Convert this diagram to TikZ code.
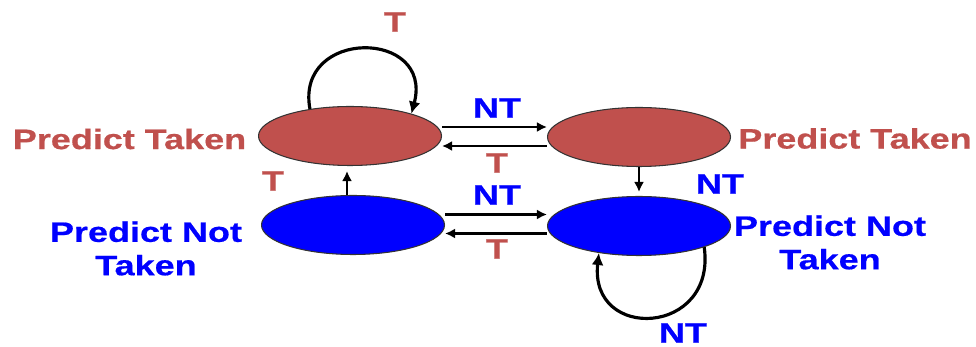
\documentclass[tikz,border=0pt]{standalone}
\usepackage{fontspec}
\usepackage{tikz}
\usetikzlibrary{arrows.meta,shapes.geometric}
\usepackage{xcolor}
\newfontfamily\lblfont{Liberation Sans}[FakeStretch=1.28,FakeBold=0.6]
\definecolor{tkred}{HTML}{C0504D}
\definecolor{ntblue}{HTML}{0000FF}
\tikzset{
	state/.style={ellipse,draw=black!80,line width=0.6pt,minimum width=3.66cm,minimum height=1.18cm,inner sep=0},
	lbl/.style={font=\lblfont\bfseries\fontsize{16}{19}\selectfont,inner sep=0,align=center},
	arr/.style={-{Latex[length=2mm,width=2mm]},line width=1.5pt},
	loop/.style={-{Latex[length=2.4mm,width=2.4mm]},line width=1.8pt}
}
\begin{document}
\begin{tikzpicture}
				\useasboundingbox (0,0) rectangle (19.52,-6.94);
				\node(PT1) at (7.0,-2.72)[state,fill=tkred]{};
				\node(PT2) at (12.78,-2.74)[state,fill=tkred]{};
				\node(PN1) at (7.06,-4.5)[state,fill=ntblue]{};
				\node(PN2) at (12.78,-4.52)[state,fill=ntblue]{};
				
				\node(L1) at (2.59,-2.78)[lbl,text=tkred]{Predict Taken};
				\node(L2) at (17.1,-2.77)[lbl,text=tkred]{Predict Taken};
				\node(L3) at (2.92,-4.97)[lbl,text=ntblue]{Predict Not\\Taken};
				\node(L4) at (16.6,-4.85)[lbl,text=ntblue]{Predict Not\\Taken};
				
				\node(t1) at (7.9,-0.44)[lbl,text=tkred]{T};
				\node(t2) at (9.94,-3.26)[lbl,text=tkred]{T};
				\node(t3) at (5.46,-3.62)[lbl,text=tkred]{T};
				\node(t4) at (9.94,-4.98)[lbl,text=tkred]{T};
				\node(nt1) at (9.94,-2.16)[lbl,text=ntblue]{NT};
				\node(nt2) at (9.94,-3.9)[lbl,text=ntblue]{NT};
				\node(nt3) at (14.4,-3.68)[lbl,text=ntblue]{NT};
				\node(nt4) at (13.66,-6.66)[lbl,text=ntblue]{NT};
				
				\draw[arr] ([yshift=0.18cm]PT1.east) to ([yshift=0.18cm]PT1.east -| PT2.west);
				\draw[arr] ([yshift=-0.18cm]PT2.west) to ([yshift=-0.18cm]PT2.west -| PT1.east);
				\draw[arr] ([yshift=0.21cm]PN1.east) to ([yshift=0.21cm]PN1.east -| PN2.west);
				\draw[arr] ([yshift=-0.15cm]PN2.west) to ([yshift=-0.15cm]PN2.west -| PN1.east);
				\draw[arr,shorten >=1mm] ([xshift=-0.12cm]PN1.north) to ([xshift=-0.12cm]PN1.north |- PT1.south);
				\draw[arr,shorten >=0.8mm] (PT2.south) to (PT2.south |- PN2.north);
				\draw[loop] (PT1.146) .. controls +(-0.3,1.62) and +(0.45,1.7) .. (PT1.20);
				\draw[loop] (PN2.-18) .. controls +(0.25,-1.78) and +(-0.2,-1.78) .. (PN2.-146);
			\end{tikzpicture}
\end{document}
